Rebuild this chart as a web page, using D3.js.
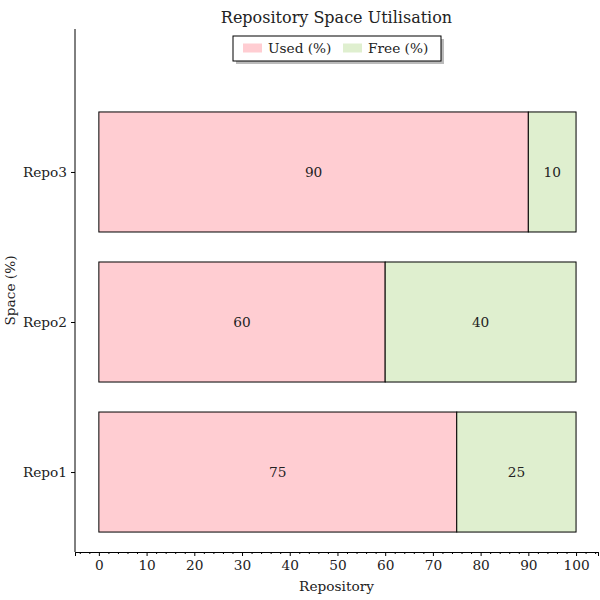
<!DOCTYPE html>
<html>
<head>
<meta charset="utf-8">
<script src="https://cdn.jsdelivr.net/npm/d3@7"></script>
<style>
  body { margin: 0; background: #fff; }
  text { font-family: "DejaVu Serif", serif; fill: #222; }
</style>
</head>
<body>
<div id="chart"></div>
<script>
var repos = ["Repo1", "Repo2", "Repo3"];
var used = [75, 60, 90];
var free = [25, 40, 10];
var seriesNames = ["Used (%)", "Free (%)"];
var xTicks = [0, 10, 20, 30, 40, 50, 60, 70, 80, 90, 100];

var width = 600, height = 600;
var margin = {left: 75, right: 2, top: 29, bottom: 48};
var colors = ["#ffcdd2", "#dfefcf"];
var fs = "13.7px";

var svg = d3.select("#chart").append("svg")
  .attr("width", width).attr("height", height);

var x = d3.scaleLinear().domain([-5, 104.6]).range([margin.left, width - margin.right]);
// y in category index units, bar height 0.8
var y = d3.scaleLinear().domain([-0.533, 2.953]).range([height - margin.bottom, margin.top]);

var stacked = repos.map(function (r, i) {
  return [{s: 0, x0: 0, x1: used[i], v: used[i], i: i},
          {s: 1, x0: used[i], x1: used[i] + free[i], v: free[i], i: i}];
});

var g = svg.append("g");
stacked.forEach(function (row) {
  g.selectAll(null).data(row).enter().append("rect")
    .attr("x", function (d) { return x(d.x0); })
    .attr("width", function (d) { return x(d.x1) - x(d.x0); })
    .attr("y", function (d) { return y(d.i + 0.4); })
    .attr("height", function (d) { return y(d.i - 0.4) - y(d.i + 0.4); })
    .attr("fill", function (d) { return colors[d.s]; })
    .attr("stroke", "#000").attr("stroke-width", 1);
  g.selectAll(null).data(row).enter().append("text")
    .attr("x", function (d) { return x((d.x0 + d.x1) / 2); })
    .attr("y", function (d) { return y(d.i); })
    .attr("text-anchor", "middle").attr("dy", "0.35em")
    .style("font-size", fs)
    .text(function (d) { return d.v; });
});

// x axis with minor ticks
var minor = d3.range(-4, 105, 2).filter(function (v) { return v % 10 !== 0; });
var xg = svg.append("g").attr("transform", "translate(0," + (height - margin.bottom) + ")");
xg.call(d3.axisBottom(x).tickValues(minor).tickSize(2).tickFormat(""));
xg.call(function (sel) {
  sel.append("g").call(d3.axisBottom(x).tickValues(xTicks).tickSize(4).tickPadding(4).tickFormat(d3.format("d")));
});
xg.selectAll("text").style("font-size", fs).attr("fill", "#222").style("font-family", "DejaVu Serif, serif");
xg.selectAll(".domain").attr("stroke", "#000");

var yg = svg.append("g").attr("transform", "translate(" + margin.left + ",0)");
yg.call(d3.axisLeft(y).tickValues([0, 1, 2]).tickSize(4).tickPadding(4)
  .tickFormat(function (d) { return repos[d]; }));
yg.select(".domain").attr("d", "M0," + y.range()[1] + "V" + y.range()[0]);
yg.selectAll("text").style("font-size", fs).attr("fill", "#222").style("font-family", "DejaVu Serif, serif");

svg.append("text").attr("x", (margin.left + width - margin.right) / 2).attr("y", 591)
  .attr("text-anchor", "middle").style("font-size", fs).text("Repository");
svg.append("text").attr("transform", "translate(15," + ((margin.top + height - margin.bottom) / 2) + ") rotate(-90)")
  .attr("text-anchor", "middle").style("font-size", fs).text("Space (%)");
svg.append("text").attr("x", (margin.left + width - margin.right) / 2).attr("y", 23)
  .attr("text-anchor", "middle").style("font-size", "16px").text("Repository Space Utilisation");

// legend
var lg = svg.append("g").attr("transform", "translate(233,36)");
lg.append("rect").attr("x", 3).attr("y", 3).attr("width", 208).attr("height", 25).attr("fill", "#bbb");
lg.append("rect").attr("width", 208).attr("height", 25).attr("fill", "#fff").attr("stroke", "#000");
seriesNames.forEach(function (n, i) {
  lg.append("rect").attr("x", 10 + i * 100).attr("y", 7.5).attr("width", 19).attr("height", 9).attr("fill", colors[i]);
  lg.append("text").attr("x", 35 + i * 100).attr("y", 12).attr("dy", "0.35em").style("font-size", fs).text(n);
});
</script>
</body>
</html>
